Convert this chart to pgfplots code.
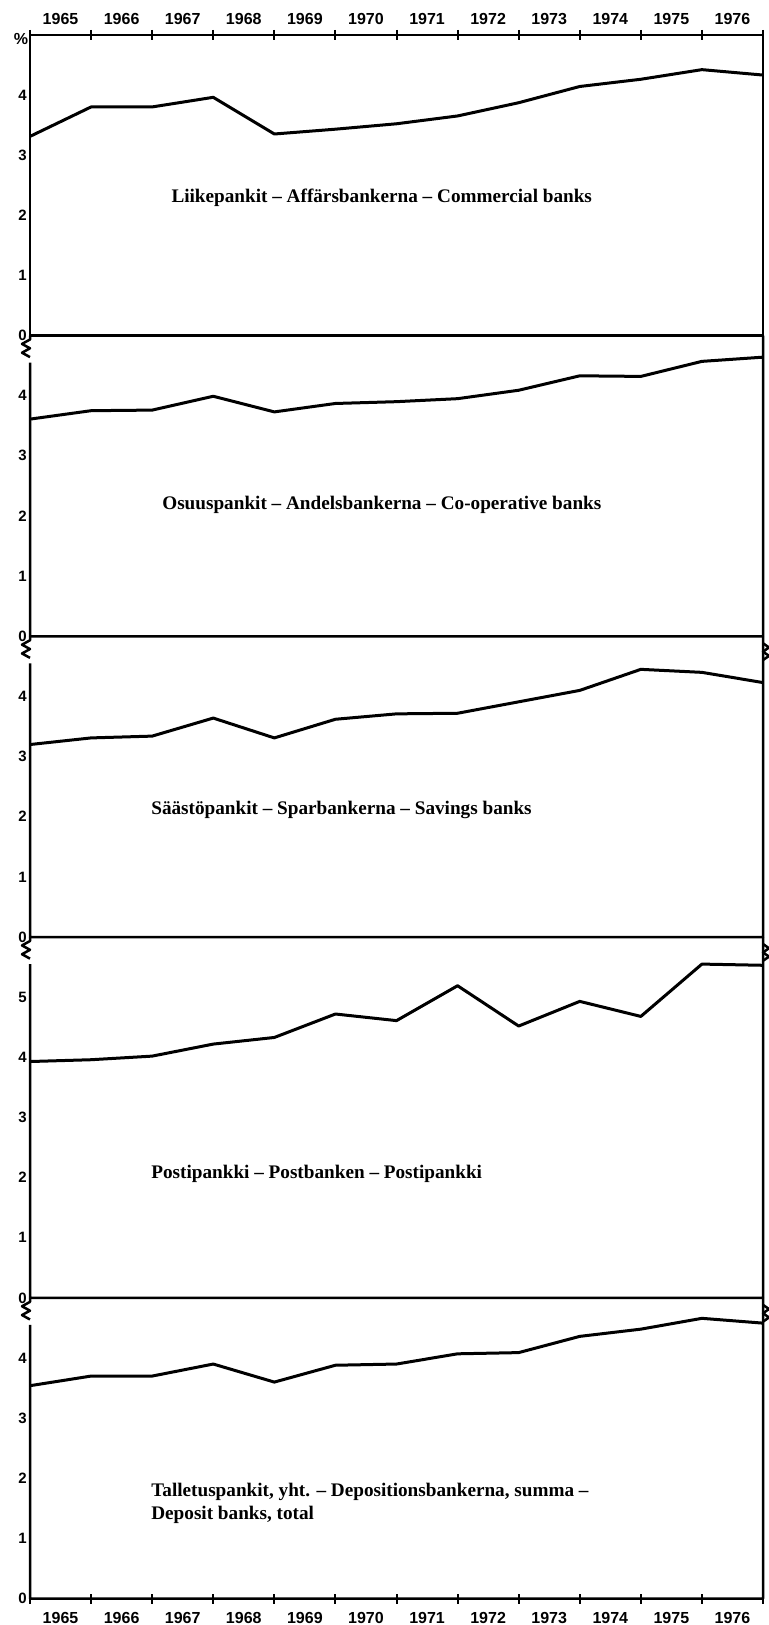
\documentclass[border=0pt]{standalone}
\usepackage{fontspec}
\setmainfont{Liberation Serif}
\setsansfont{Liberation Sans}
\usepackage{pgfplots}
\pgfplotsset{compat=1.18}
\usepackage{pgfplotstable}

\pgfplotstableread{
x y
0 3.31
1 3.80
2 3.80
3 3.96
4 3.35
5 3.43
6 3.52
7 3.65
8 3.87
9 4.14
10 4.26
11 4.42
12 4.33
}\dataA
\pgfplotstableread{
x y
0 3.61
1 3.75
2 3.76
3 3.99
4 3.73
5 3.87
6 3.90
7 3.95
8 4.09
9 4.33
10 4.32
11 4.57
12 4.64
}\dataB
\pgfplotstableread{
x y
0 3.20
1 3.31
2 3.34
3 3.64
4 3.31
5 3.62
6 3.71
7 3.72
8 3.91
9 4.10
10 4.45
11 4.40
12 4.23
}\dataC
\pgfplotstableread{
x y
0 3.93
1 3.96
2 4.02
3 4.22
4 4.33
5 4.72
6 4.61
7 5.19
8 4.52
9 4.93
10 4.68
11 5.55
12 5.53
}\dataD
\pgfplotstableread{
x y
0 3.54
1 3.70
2 3.70
3 3.90
4 3.60
5 3.88
6 3.90
7 4.07
8 4.09
9 4.36
10 4.48
11 4.66
12 4.58
}\dataE

\tikzset{
  frame/.style={black, line width=1.25pt, line join=round},
  ttl/.style={font=\bfseries\fontsize{9.6}{11.5}\selectfont, anchor=west, inner sep=0pt, align=left},
}
\pgfplotsset{
  panel/.style={
    scale only axis,
    width=366.5pt,
    xmin=0, xmax=12, ymin=0,
    axis line style={draw=none},
    major tick length=0pt,
    minor tick length=5pt,
    tick align=center,
    every tick/.style={black, line width=1pt},
    xtick=\empty,
    ytick={0,...,4},
    /pgf/number format/assume math mode=true,
    yticklabel style={font=\sffamily\bfseries\fontsize{7.5}{8.5}\selectfont, inner sep=1.5pt},
    xticklabel style={font=\sffamily\bfseries\fontsize{8}{9}\selectfont},
    clip=false,
    anchor=south west,
  },
  dataline/.style={black, line width=1.5pt, line join=round, mark=none},
}

\begin{document}
\begin{tikzpicture}
\useasboundingbox (0,0) rectangle (384pt,-812.5pt);

% Panel 1
\begin{axis}[panel, at={(15pt,-167.75pt)}, height=150.375pt, ymax=5,
  xtick={0.5,1.5,...,11.5},
  xticklabels={1965,1966,1967,1968,1969,1970,1971,1972,1973,1974,1975,1976},
  minor xtick={0,1,...,12},
  xtick pos=right, xticklabel pos=right,
  xticklabel style={yshift=1.7pt}]
\addplot[dataline] table[x=x,y=y] {\dataA};
\draw[frame] (rel axis cs:0,0) rectangle (rel axis cs:1,1);
\node[font=\sffamily\bfseries\fontsize{8}{9}\selectfont] at (rel axis cs:0,1) [xshift=-4.5pt, yshift=-2.2pt] {\%};
\node[ttl] at (axis cs:2.31,2.29) {Liikepankit – Affärsbankerna – Commercial banks};
\end{axis}

% Panel 2
\begin{axis}[panel, at={(15pt,-318.125pt)}, height=150.375pt, ymax=5]
\addplot[dataline] table[x=x,y=y] {\dataB};
\draw[frame] (rel axis cs:0,1) -- ++(0,-2pt) -- ++(-4pt,-2.2pt) -- ++(4pt,-2.2pt) -- ++(-4pt,-2.2pt) -- ++(4pt,-2.2pt)
  (axis cs:0,4.55) -- (rel axis cs:0,0) -- (rel axis cs:1,0) -- (rel axis cs:1,1);
\node[ttl] at (axis cs:2.16,2.18) {Osuuspankit – Andelsbankerna – Co-operative banks};
\end{axis}

% Panel 3
\begin{axis}[panel, at={(15pt,-468.5pt)}, height=150.375pt, ymax=5]
\addplot[dataline] table[x=x,y=y] {\dataC};
\draw[frame] (rel axis cs:0,1) -- ++(0,-2pt) -- ++(-4pt,-2.2pt) -- ++(4pt,-2.2pt) -- ++(-4pt,-2.2pt) -- ++(4pt,-2.2pt)
  (axis cs:0,4.55) -- (rel axis cs:0,0) -- (rel axis cs:1,0) -- (rel axis cs:1,1);
\draw[frame] (rel axis cs:1,1) ++(0,-3.5pt) -- ++(3pt,-2.1pt) -- ++(-3pt,-2.1pt) -- ++(3pt,-2.1pt) -- ++(-3pt,-2.1pt);
\node[ttl] at (axis cs:1.98,2.11) {Säästöpankit – Sparbankerna – Savings banks};
\end{axis}

% Panel 4
\begin{axis}[panel, at={(15pt,-648.95pt)}, height=180.45pt, ymax=6, ytick={0,...,5}]
\addplot[dataline] table[x=x,y=y] {\dataD};
\draw[frame] (rel axis cs:0,1) -- ++(0,-2pt) -- ++(-4pt,-2.2pt) -- ++(4pt,-2.2pt) -- ++(-4pt,-2.2pt) -- ++(4pt,-2.2pt)
  (axis cs:0,5.55) -- (rel axis cs:0,0) -- (rel axis cs:1,0) -- (rel axis cs:1,1);
\draw[frame] (rel axis cs:1,1) ++(0,-3.5pt) -- ++(3pt,-2.1pt) -- ++(-3pt,-2.1pt) -- ++(3pt,-2.1pt) -- ++(-3pt,-2.1pt);
\node[ttl] at (axis cs:1.98,2.06) {Postipankki – Postbanken – Postipankki};
\end{axis}

% Panel 5
\begin{axis}[panel, at={(15pt,-799.3pt)}, height=150.375pt, ymax=5,
  xtick={0.5,1.5,...,11.5},
  xticklabels={1965,1966,1967,1968,1969,1970,1971,1972,1973,1974,1975,1976},
  minor xtick={0,1,...,12},
  xtick pos=left, xticklabel pos=left,
  xticklabel style={yshift=-3.5pt}]
\addplot[dataline] table[x=x,y=y] {\dataE};
\draw[frame] (rel axis cs:0,1) -- ++(0,-2pt) -- ++(-4pt,-2.2pt) -- ++(4pt,-2.2pt) -- ++(-4pt,-2.2pt) -- ++(4pt,-2.2pt)
  (axis cs:0,4.55) -- (rel axis cs:0,0) -- (rel axis cs:1,0) -- (rel axis cs:1,1);
\draw[frame] (rel axis cs:1,1) ++(0,-3.5pt) -- ++(3pt,-2.1pt) -- ++(-3pt,-2.1pt) -- ++(3pt,-2.1pt) -- ++(-3pt,-2.1pt);
\node[ttl] at (axis cs:1.98,1.58) {Talletuspankit, yht. – Depositionsbankerna, summa –\\Deposit banks, total};
\end{axis}
\end{tikzpicture}
\end{document}
